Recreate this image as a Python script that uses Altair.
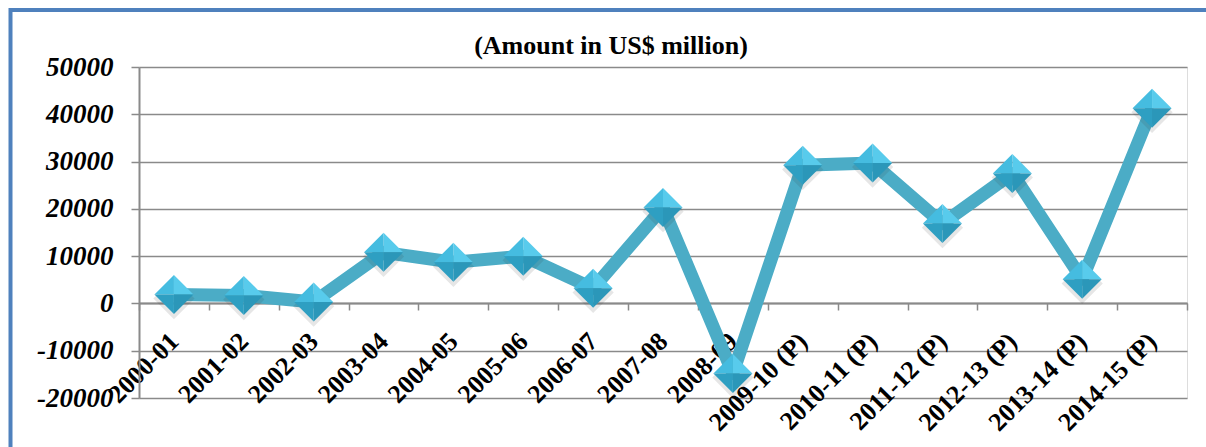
import altair as alt
import pandas as pd

categories = ["2000-01", "2001-02", "2002-03", "2003-04", "2004-05", "2005-06",
              "2006-07", "2007-08", "2008-09", "2009-10 (P)", "2010-11 (P)",
              "2011-12 (P)", "2012-13 (P)", "2013-14 (P)", "2014-15 (P)"]
values = [1900, 1700, 300, 10800, 8700, 10000, 3200, 20300, -14800,
          29200, 29700, 16900, 27500, 5100, 41300]
y_ticks = [-20000, -10000, 0, 10000, 20000, 30000, 40000, 50000]
title_text = "(Amount in US$ million)"

df = pd.DataFrame({"year": categories, "amount": values})

FONT = "Liberation Serif"
GRAY = "#8A8A8A"
LINE = "#4BACC6"

x_axis = alt.Axis(
    title=None, orient="bottom", offset=-95, grid=False,
    tickBand="extent", tickSize=7, tickColor=GRAY, tickWidth=1.5,
    domainColor=GRAY, domainWidth=2,
    labelAngle=-45, labelAlign="right", labelBaseline="middle",
    labelPadding=27, labelFont=FONT, labelFontSize=26, labelFontWeight="bold",
    labelColor="black", labelOverlap=False, labelBound=False, labelFlush=False,
)
y_axis = alt.Axis(
    title=None, values=y_ticks, labelExpr="'' + datum.value", grid=True,
    gridColor=GRAY, gridWidth=1.5, domainColor=GRAY, domainWidth=2,
    tickSize=8, tickColor=GRAY, tickWidth=1.5,
    labelFont=FONT, labelFontSize=27, labelFontWeight="bold", labelFontStyle="italic",
    labelColor="black", labelPadding=18, labelOverlap=False, labelFlush=False,
)

xenc = alt.X("year:N", sort=categories,
             scale=alt.Scale(type="band", paddingInner=0, paddingOuter=0), axis=x_axis)
yenc = alt.Y("amount:Q", scale=alt.Scale(domain=[-20000, 50000], nice=False), axis=y_axis)

base = alt.Chart(df)

border = alt.Chart(pd.DataFrame({"a": [0]})).mark_rect(
    fill="white", fillOpacity=0, stroke="#4F81BD", strokeWidth=4
).encode(
    x=alt.value(-128.5), x2=alt.value(1120), y=alt.value(-57), y2=alt.value(450)
)

line = base.mark_line(color=LINE, strokeWidth=13, strokeJoin="round").encode(x=xenc, y=yenc)

shadow = base.mark_point(filled=True, shape="M-1,0.2L0,-0.8L1,0.2L0,1.2Z",
                         size=1700, color="#333333", opacity=0.12).encode(x=xenc, y=yenc)

facets = [
    ("M-1,0L0,-1L0,0Z", "#45BCE0"),
    ("M0,-1L1,0L0,0Z", "#58CBEC"),
    ("M1,0L0,1L0,0Z", "#2B97B9"),
    ("M0,1L-1,0L0,0Z", "#2E9FC2"),
]
marker_layers = [
    base.mark_point(filled=True, shape=p, size=1521, color=c, opacity=1).encode(x=xenc, y=yenc)
    for p, c in facets
]

chart = alt.layer(border, line, shadow, *marker_layers).properties(
    width=1048, height=331,
    autosize=alt.AutoSizeParams(type="none"),
    padding={"left": 139, "top": 67, "right": 19, "bottom": 49},
    title=alt.Title(title_text, font=FONT, fontSize=26, fontWeight="bold", color="black",
                    anchor="middle", frame="group", dx=-52, baseline="alphabetic", offset=-72),
).configure_view(stroke=None).configure(background="white")

chart.save("out.html", embed_options={"renderer": "svg", "actions": False})
